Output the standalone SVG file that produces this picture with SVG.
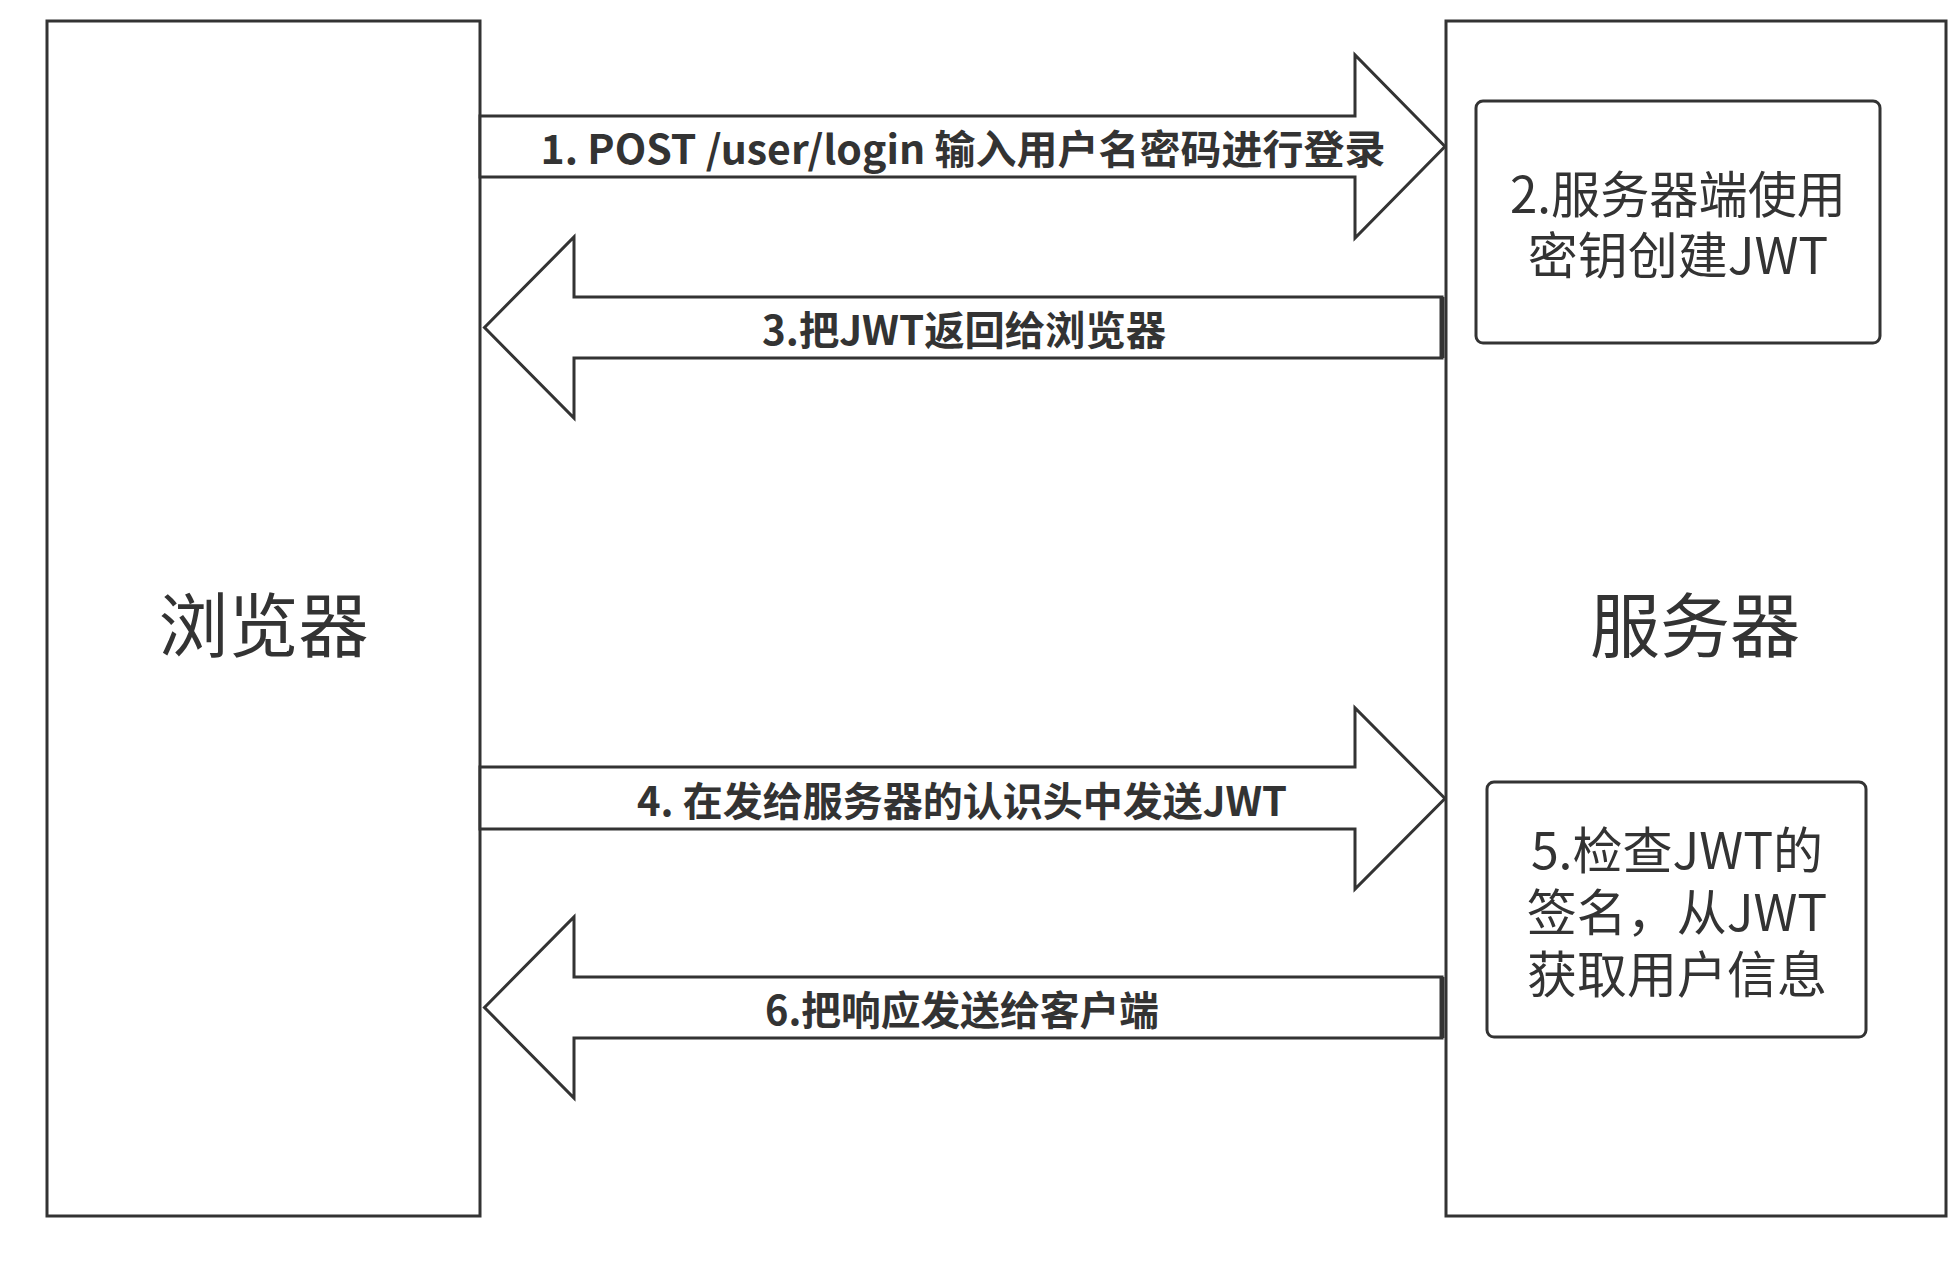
<svg xmlns="http://www.w3.org/2000/svg" width="1954" height="1266" viewBox="0 0 1954 1266">
<style>
.box{fill:#fff;stroke:#333;stroke-width:3}
.inner{fill:#fff;stroke:#333;stroke-width:3}
.arrow{fill:#fff;stroke:#333;stroke-width:3;stroke-linejoin:miter}
.big{font-family:"Noto Sans CJK SC","Noto Sans",sans-serif;font-size:70px;fill:#333;text-anchor:middle;dominant-baseline:central}
.node{font-family:"Noto Sans CJK SC","Noto Sans",sans-serif;font-size:50px;fill:#333;text-anchor:middle;dominant-baseline:central}
.lbl{font-family:"Noto Sans CJK SC","Noto Sans",sans-serif;font-size:40px;font-weight:bold;fill:#333;text-anchor:middle;dominant-baseline:central}
</style>
<rect width="1954" height="1266" fill="#fff"/>
<g id="browser">
<rect class="box" x="47" y="21" width="433" height="1195"/>
<text class="big" x="263.5" y="621">浏览器</text>
</g>
<g id="server">
<rect class="box" x="1446" y="21" width="500" height="1195"/>
<text class="big" x="1695" y="621">服务器</text>
</g>
<g id="step2">
<rect class="inner" x="1476" y="101" width="404" height="242" rx="7"/>
<text class="node" x="1678" y="191" textLength="336" lengthAdjust="spacingAndGlyphs">2.服务器端使用</text>
<text class="node" x="1678" y="252">密钥创建JWT</text>
</g>
<g id="step5">
<rect class="inner" x="1487" y="782" width="379" height="255" rx="7"/>
<text class="node" x="1677" y="847">5.检查JWT的</text>
<text class="node" x="1677" y="909">签名，从JWT</text>
<text class="node" x="1677" y="971">获取用户信息</text>
</g>
<g id="connectors">
<g id="arrow1">
<polygon class="arrow" points="480,116 1355,116 1355,55 1445,146.5 1355,238 1355,177 480,177"/>
<text class="lbl" x="963" y="147" textLength="845" lengthAdjust="spacingAndGlyphs">1. POST /user/login 输入用户名密码进行登录</text>
</g>
<g id="arrow3">
<polygon class="arrow" points="1442,297 574,297 574,237 484.5,327.5 574,418 574,358 1442,358"/>
<line x1="1442" y1="297" x2="1442" y2="358" stroke="#333" stroke-width="5"/>
<text class="lbl" x="964" y="328" textLength="404" lengthAdjust="spacingAndGlyphs">3.把JWT返回给浏览器</text>
</g>
<g id="arrow4">
<polygon class="arrow" points="480,767 1355,767 1355,708 1445,798.5 1355,889 1355,829 480,829"/>
<text class="lbl" x="962" y="799" textLength="650" lengthAdjust="spacingAndGlyphs">4. 在发给服务器的认识头中发送JWT</text>
</g>
<g id="arrow6">
<polygon class="arrow" points="1442,977 574,977 574,917 484.5,1007.5 574,1098 574,1038 1442,1038"/>
<line x1="1442" y1="977" x2="1442" y2="1038" stroke="#333" stroke-width="5"/>
<text class="lbl" x="962" y="1008" textLength="394" lengthAdjust="spacingAndGlyphs">6.把响应发送给客户端</text>
</g>
</g>
</svg>
